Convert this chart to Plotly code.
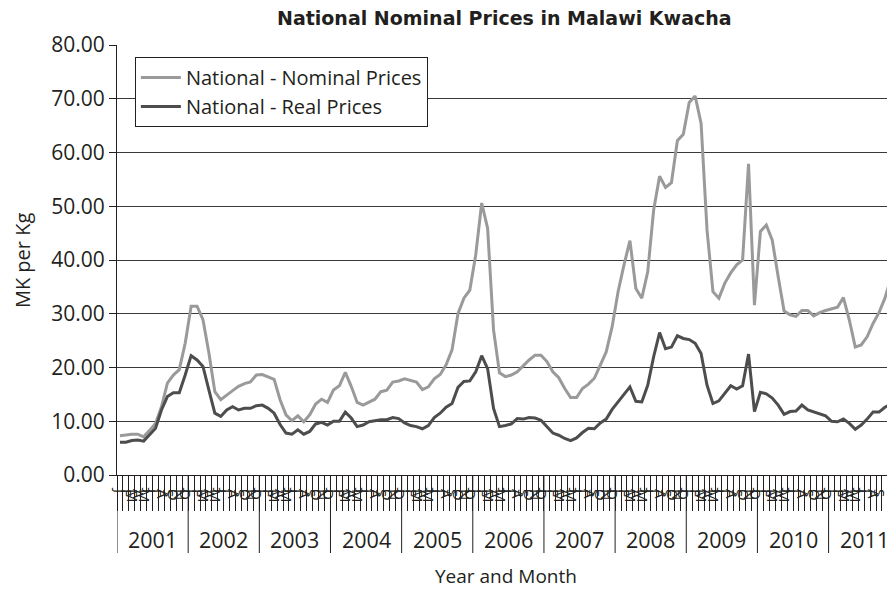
import plotly.graph_objects as go

years = [str(y) for y in range(2001, 2012)]
month_letters = ["J", "F", "M", "A", "M", "J", "J", "A", "S", "O", "N", "D"]

nominal = [
    7.3, 7.5, 7.6, 7.6, 7.1, 8.3, 9.6, 12.7, 17.1, 18.6, 19.6, 24.5,
    31.4, 31.4, 28.9, 22.7, 15.5, 14.0, 14.9, 15.7, 16.5, 17.0, 17.3, 18.6,
    18.7, 18.3, 17.8, 14.0, 11.2, 10.1, 11.0, 9.9, 11.2, 13.2, 14.1, 13.5,
    15.8, 16.6, 19.1, 16.5, 13.5, 13.0, 13.6, 14.1, 15.5, 15.8, 17.3, 17.5,
    17.9, 17.6, 17.3, 15.9, 16.4, 17.9, 18.7, 20.5, 23.3, 30.0, 32.9, 34.4,
    41.0, 50.6, 45.9, 27.0, 19.0, 18.3, 18.6, 19.2, 20.3, 21.4, 22.3, 22.3,
    21.1, 19.2, 18.1, 16.1, 14.4, 14.4, 16.1, 16.9, 18.0, 20.6, 22.9, 27.6,
    34.1, 39.1, 43.6, 34.7, 32.9, 37.8, 49.3, 55.6, 53.5, 54.4, 62.2, 63.4,
    69.3, 70.5, 65.4, 45.6, 34.1, 32.9, 35.7, 37.6, 39.1, 40.0, 57.9, 31.6,
    45.3, 46.5, 43.7, 36.9, 30.5, 29.8, 29.5, 30.6, 30.6, 29.6, 30.2, 30.6,
    30.9, 31.2, 33.0, 28.8, 23.8, 24.2, 25.7, 28.2, 30.2, 32.9, 36.6, 41.5,
]

real = [
    6.1, 6.1, 6.4, 6.5, 6.3, 7.6, 8.7, 12.1, 14.6, 15.3, 15.3, 18.6,
    22.2, 21.4, 20.2, 15.8, 11.5, 10.9, 12.1, 12.7, 12.1, 12.4, 12.4, 12.9,
    13.0, 12.4, 11.5, 9.4, 7.8, 7.6, 8.4, 7.6, 8.1, 9.5, 9.8, 9.3,
    10.0, 10.0, 11.7, 10.6, 9.0, 9.3, 9.9, 10.1, 10.3, 10.3, 10.7, 10.5,
    9.7, 9.2, 9.0, 8.6, 9.2, 10.7, 11.5, 12.6, 13.3, 16.3, 17.4, 17.5,
    19.2, 22.2, 19.8, 12.4, 9.0, 9.2, 9.5, 10.5, 10.4, 10.7, 10.6, 10.2,
    8.9, 7.8, 7.4, 6.8, 6.4, 6.9, 7.9, 8.7, 8.6, 9.7, 10.4, 12.2,
    13.6, 15.0, 16.4, 13.7, 13.6, 16.7, 22.0, 26.5, 23.5, 23.8, 25.9, 25.4,
    25.2, 24.5, 22.6, 16.7, 13.3, 13.8, 15.3, 16.6, 16.0, 16.6, 22.5, 11.8,
    15.4, 15.1, 14.3, 13.0, 11.3, 11.8, 11.9, 13.0, 12.1, 11.7, 11.3, 11.0,
    10.0, 9.9, 10.4, 9.6, 8.5, 9.3, 10.4, 11.7, 11.7, 12.6, 13.2, 14.0,
]

n = len(nominal)
x_idx = list(range(n))
month_text = [month_letters[i % 12] for i in range(n)]

FONT = "Open Sans"
TXT = "#231f20"

fig = go.Figure()
fig.add_trace(go.Scatter(x=x_idx, y=nominal, mode="lines", name="National - Nominal Prices",
                         line=dict(color="#9a9a9a", width=3)))
fig.add_trace(go.Scatter(x=x_idx, y=real, mode="lines", name="National - Real Prices",
                         line=dict(color="#4d4d4d", width=3)))

shapes = []
for k in range(len(years) + 1):
    xb = 12 * k - 0.5
    shapes.append(dict(type="line", xref="x", yref="paper", x0=xb, x1=xb, y0=0, y1=-0.1814,
                       line=dict(color="#231f20", width=1)))

annotations = []
for k, yr in enumerate(years):
    annotations.append(dict(x=12 * k + 5.5, y=-0.151, xref="x", yref="paper", text=yr,
                            showarrow=False, font=dict(family=FONT, size=21.5, color=TXT),
                            xanchor="center", yanchor="middle"))
annotations.append(dict(x=0.5, y=-(576 - 475) / 430, xref="paper", yref="paper",
                        text="Year and Month",
                        showarrow=False, font=dict(family=FONT, size=19, color=TXT),
                        xanchor="center", yanchor="middle"))
annotations.append(dict(x=-0.122, y=0.5, xref="paper", yref="paper", text="MK per Kg",
                        textangle=-90, showarrow=False,
                        font=dict(family=FONT, size=20, color=TXT),
                        xanchor="center", yanchor="middle"))
annotations.append(dict(x=0.4987, y=(475 - 18) / 430, xref="paper", yref="paper",
                        text="<b>National Nominal Prices in Malawi Kwacha</b>",
                        showarrow=False, font=dict(family="DejaVu Sans", size=19, color=TXT),
                        xanchor="center", yanchor="middle"))

fig.update_layout(
    width=887, height=581,
    margin=dict(l=109, r=0, t=37, b=114, autoexpand=False),
    paper_bgcolor="white", plot_bgcolor="white",
    showlegend=True,
    legend=dict(x=0.023, y=(475 - 57) / 430, xanchor="left", yanchor="top",
                bgcolor="white", bordercolor="#231f20", borderwidth=1, itemwidth=40,
                font=dict(family=FONT, size=20, color=TXT), tracegroupgap=0),
    xaxis=dict(range=[-0.5, 130.7], showgrid=False, zeroline=False, automargin=False,
               showline=True, linecolor="#231f20", linewidth=1,
               tickmode="array", tickvals=x_idx, ticktext=month_text,
               ticks="", tickangle=90, ticklabelstandoff=10,
               tickfont=dict(family=FONT, size=15, color=TXT),
               minor=dict(ticks="outside", ticklen=35, tickwidth=1, tickcolor="#231f20",
                          tick0=-0.5, dtick=1, showgrid=False)),
    yaxis=dict(range=[0, 80], dtick=10, tickformat=".2f", showgrid=True, automargin=False,
               gridcolor="#3a3a3a", gridwidth=1, zeroline=False,
               showline=True, linecolor="#231f20", linewidth=1,
               ticks="outside", ticklen=7, tickcolor="#231f20",
               tickfont=dict(family=FONT, size=21, color=TXT)),
    shapes=shapes,
    annotations=annotations,
)

fig.write_html("out.html")
